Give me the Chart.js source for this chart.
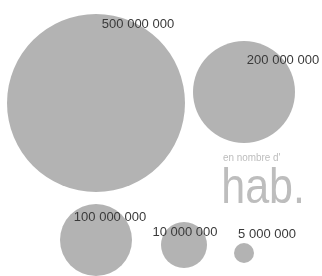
<!DOCTYPE html>
<html>
<head>
<meta charset="utf-8">
<script src="https://cdn.jsdelivr.net/npm/chart.js@4"></script>
<style>
  html, body { margin: 0; padding: 0; background: #fff; }
  #wrap { width: 322px; height: 276px; }
</style>
</head>
<body>
<div id="wrap"><canvas id="bubbles"></canvas></div>
<script>
// données
const labels = ['500 000 000', '200 000 000', '100 000 000', '10 000 000', '5 000 000'];
const population = [500000000, 200000000, 100000000, 10000000, 5000000];
// placement des bulles (unités de la grille 322 x 276) et rayon
const bubbleX = [96, 244, 96, 184, 244];
const bubbleY = [103, 92, 240, 245, 253];
const bubbleR = [89, 51, 36, 23, 10];

// décalage des étiquettes par rapport au centre des bulles
const labelShift = [[42, -79], [39, -32], [14, -23], [1, -13], [23, -19]];

const labelPlugin = {
  id: 'labelPlugin',
  afterDatasetsDraw(chart) {
    const ctx = chart.ctx;
    const meta = chart.getDatasetMeta(0);
    ctx.save();
    ctx.fillStyle = '#3a3a3a';
    ctx.font = '13px "Liberation Sans", Arial, sans-serif';
    ctx.textAlign = 'center';
    ctx.textBaseline = 'middle';
    meta.data.forEach((pt, i) => {
      ctx.fillText(labels[i], pt.x + labelShift[i][0], pt.y + labelShift[i][1]);
    });
    // légende "en nombre d'hab." (police étroite simulée)
    ctx.textAlign = 'left';
    ctx.textBaseline = 'alphabetic';
    ctx.fillStyle = '#bdbdbd';
    ctx.translate(223, 0);
    ctx.scale(0.86, 1);
    ctx.font = '11.5px "Liberation Sans", sans-serif';
    ctx.fillText("en nombre d'", 0, 161);
    ctx.font = '50px "Liberation Sans", sans-serif';
    ctx.fillText('hab.', -2, 203);
    ctx.restore();
  },
};

const ctx = document.getElementById('bubbles').getContext('2d');
new Chart(ctx, {
  type: 'bubble',
  data: {
    labels: labels,
    datasets: [
      {
        label: 'habitants',
        data: population.map((p, i) => ({ x: bubbleX[i], y: bubbleY[i], r: bubbleR[i], v: p })),
        backgroundColor: '#b3b3b3',
        borderWidth: 0,
        hoverRadius: 0,
        clip: false,
      },
    ],
  },
  options: {
    responsive: true,
    maintainAspectRatio: false,
    animation: false,
    layout: { padding: 0, autoPadding: false },
    plugins: {
      legend: { display: false },
      tooltip: { enabled: false },
    },
    scales: {
      x: { display: false, min: 0, max: 322 },
      y: { display: false, min: 0, max: 276, reverse: true },
    },
  },
  plugins: [labelPlugin],
});
</script>
</body>
</html>
